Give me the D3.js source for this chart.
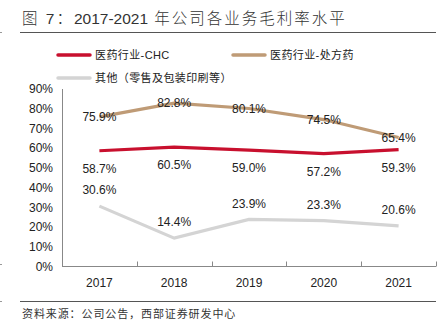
<!DOCTYPE html>
<html>
<head>
<meta charset="utf-8">
<script src="https://d3js.org/d3.v7.min.js"></script>
<style>
  body { margin: 0; background: #fff; }
  svg { display: block; }
  text { font-family: "Liberation Sans", Arial, "Noto Sans CJK SC", sans-serif; }
  .cjk { font-family: "Liberation Sans", "Noto Sans CJK SC", sans-serif; }
</style>
</head>
<body>
<svg id="chart"></svg>
<script>
// data
const years = ["2017", "2018", "2019", "2020", "2021"];
const chc = [58.7, 60.5, 59.0, 57.2, 59.3];
const rx = [75.9, 82.8, 80.1, 74.5, 65.4];
const other = [30.6, 14.4, 23.9, 23.3, 20.6];
const yTicks = [0, 10, 20, 30, 40, 50, 60, 70, 80, 90];
const seriesNames = ["医药行业-CHC", "医药行业-处方药", "其他（零售及包装印刷等）"];
const titleParts = ["图 7：", "2017-2021", " 年公司各业务毛利率水平"];

const width = 443;
const height = 328;
const margin = { top: 89, right: 7, bottom: 61, left: 62 };

const svg = d3.select("#chart")
    .attr("width", width)
    .attr("height", height);

// title: CJK parts spaced out, digits left tight
const title = svg.append("text")
    .attr("class", "cjk")
    .attr("x", 22)
    .attr("y", 24)
    .style("font-size", "15.5px")
    .style("font-weight", 300)
    .style("fill", "#333");

title.selectAll("tspan")
    .data(titleParts)
    .enter()
    .append("tspan")
    .style("letter-spacing", (d, i) => i === 1 ? "0px" : "2px")
    .text(d => d);

svg.append("line")
    .attr("x1", 20).attr("x2", 436)
    .attr("y1", 32.5).attr("y2", 32.5)
    .style("stroke", "#555").style("stroke-width", 1);

svg.append("line")
    .attr("x1", 20).attr("x2", 436)
    .attr("y1", 301.5).attr("y2", 301.5)
    .style("stroke", "#555").style("stroke-width", 1);

// little page marks at the left edge
[32.5, 264.5, 301.5].forEach(y => {
    svg.append("line")
        .attr("x1", 0).attr("x2", 2)
        .attr("y1", y).attr("y2", y)
        .style("stroke", "#999");
});

svg.append("text")
    .attr("class", "cjk")
    .attr("x", 22)
    .attr("y", 318)
    .style("font-size", "11px")
    .style("letter-spacing", "0.9px")
    .style("fill", "#333")
    .text("资料来源：公司公告，西部证券研发中心");

// scales
const xScale = d3.scaleBand()
    .domain(years)
    .range([margin.left, width - margin.right]);

const yScale = d3.scaleLinear()
    .domain([0, 90])
    .range([height - margin.bottom - 0.5, margin.top]);

// y axis line and labels
svg.append("line")
    .attr("x1", margin.left + 0.5).attr("x2", margin.left + 0.5)
    .attr("y1", yScale(90)).attr("y2", yScale(0))
    .style("stroke", "#888");

svg.selectAll(".ytick")
    .data(yTicks)
    .enter()
    .append("text")
    .attr("x", 53)
    .attr("y", d => yScale(d))
    .attr("dy", "0.35em")
    .style("text-anchor", "end")
    .style("font-size", "12px")
    .style("fill", "#222")
    .text(d => d + "%");

// x axis line, inward ticks at band edges, labels
svg.append("line")
    .attr("x1", margin.left).attr("x2", width - margin.right)
    .attr("y1", yScale(0)).attr("y2", yScale(0))
    .style("stroke", "#888");

const edges = years.map(d => xScale(d)).concat([xScale(years[years.length - 1]) + xScale.bandwidth()]);
svg.selectAll(".xtick")
    .data(edges)
    .enter()
    .append("line")
    .attr("x1", d => Math.round(d) + 0.5).attr("x2", d => Math.round(d) + 0.5)
    .attr("y1", yScale(0) - 5).attr("y2", yScale(0))
    .style("stroke", "#888");

svg.selectAll(".xlabel")
    .data(years)
    .enter()
    .append("text")
    .attr("x", d => xScale(d) + xScale.bandwidth() / 2)
    .attr("y", 287)
    .style("text-anchor", "middle")
    .style("font-size", "12px")
    .style("fill", "#222")
    .text(d => d);

// lines
const series = [
    { name: seriesNames[0], values: chc, color: "#C8102E", dy: 18 },
    { name: seriesNames[1], values: rx, color: "#BF9B76", dy: 0 },
    { name: seriesNames[2], values: other, color: "#D4D4D4", dy: -16 }
];

const line = d3.line()
    .x((d, i) => xScale(years[i]) + xScale.bandwidth() / 2)
    .y(d => yScale(d));

// draw grey first, then tan, then red on top
[series[2], series[1], series[0]].forEach(s => {
    svg.append("path")
        .datum(s.values)
        .attr("d", line)
        .style("fill", "none")
        .style("stroke", s.color)
        .style("stroke-width", 3.2);
});

// data labels
series.forEach(s => {
    svg.selectAll(null)
        .data(s.values)
        .enter()
        .append("text")
        .attr("x", (d, i) => xScale(years[i]) + xScale.bandwidth() / 2)
        .attr("y", d => yScale(d) + s.dy)
        .attr("dy", "0.35em")
        .style("text-anchor", "middle")
        .style("font-size", "12px")
        .style("fill", "#222")
        .text(d => d.toFixed(1) + "%");
});

// legend
const legendPos = [[58, 55], [233, 55], [58, 78]];
series.forEach((s, i) => {
    const g = svg.append("g")
        .attr("transform", `translate(${legendPos[i][0]},${legendPos[i][1]})`);
    g.append("line")
        .attr("x1", 0).attr("x2", 32)
        .attr("y1", 0).attr("y2", 0)
        .style("stroke", s.color)
        .style("stroke-width", 3.5)
        .style("stroke-linecap", "round");
    g.append("text")
        .attr("class", "cjk")
        .attr("x", 37)
        .attr("y", 0)
        .attr("dy", "0.35em")
        .style("font-size", "11px")
        .style("letter-spacing", "0.4px")
        .style("fill", "#222")
        .text(s.name);
});
</script>
</body>
</html>
